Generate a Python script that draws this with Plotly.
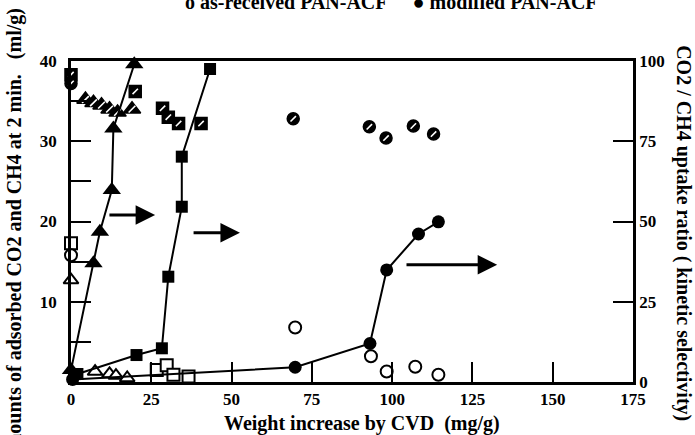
import plotly.graph_objects as go

# ---------------- data ----------------
# hatched symbols (left axis, ml/g)
hat_tri_x = [4.5, 7.0, 9.5, 12.0, 14.5, 19.0]
hat_tri_y = [35.2, 34.8, 34.5, 34.0, 33.6, 34.0]
hat_sq_x = [0, 20.0, 28.5, 30.3, 33.5, 40.5]
hat_sq_y = [38.3, 36.2, 34.1, 33.0, 32.2, 32.2]
hat_ci_x = [0, 69.2, 92.9, 98.1, 106.6, 112.9]
hat_ci_y = [37.2, 32.8, 31.8, 30.4, 31.9, 30.9]

# open symbols (left axis, ml/g)
open_tri_x = [0, 7.5, 12.0, 14.0, 17.5]
open_tri_y = [12.7, 1.3, 1.0, 0.8, 0.5]
open_sq_x = [0, 26.7, 29.8, 31.9, 36.6]
open_sq_y = [17.3, 1.5, 2.1, 0.9, 0.7]
open_ci_x = [0, 69.8, 93.4, 98.3, 107.2, 114.4]
open_ci_y = [15.8, 6.8, 3.2, 1.3, 1.9, 0.9]

# filled symbols with lines (right axis, CO2/CH4 ratio)
fill_tri_x = [0, 7.0, 9.0, 12.7, 13.2, 19.7]
fill_tri_r = [3.7, 37.0, 46.8, 59.8, 79.0, 99.0]
fill_sq_x = [2.0, 20.4, 28.3, 30.3, 34.5, 34.5, 43.3]
fill_sq_r = [2.5, 8.4, 10.5, 32.8, 54.6, 70.2, 97.5]
fill_ci_x = [0.5, 69.8, 93.1, 98.3, 108.2, 114.4]
fill_ci_r = [0.8, 4.6, 12.0, 34.9, 46.1, 49.9]

x_ticks = [0, 25, 50, 75, 100, 125, 150, 175]
yl_ticks = [0, 5, 10, 15, 20, 25, 30, 35, 40]
yl_text = ["", "", "10", "", "20", "", "30", "", "40"]
yr_ticks = [0, 25, 50, 75, 100]

# arrows (tail x, head x, y on left axis)
arrows = [(11.5, 26.2, 20.8), (37.7, 52.6, 18.6), (104.0, 132.7, 14.6)]

FONT = "Liberation Serif"
BLACK = "black"

fig = go.Figure()

def hatched(x, y, sym, size):
    fig.add_trace(go.Scatter(x=x, y=y, mode="markers", cliponaxis=False,
                             marker=dict(symbol=sym, size=size, color=BLACK,
                                         line=dict(color=BLACK, width=1.5)),
                             showlegend=False, hoverinfo="skip"))
    fig.add_trace(go.Scatter(x=x, y=y, mode="markers", cliponaxis=False,
                             marker=dict(symbol="line-ne", size=size * 0.45,
                                         line=dict(color="white", width=1.6)),
                             showlegend=False, hoverinfo="skip"))

def opened(x, y, sym, size):
    fig.add_trace(go.Scatter(x=x, y=y, mode="markers", cliponaxis=False,
                             marker=dict(symbol=sym, size=size, color="white",
                                         line=dict(color=BLACK, width=2)),
                             showlegend=False))

def filled(x, r, sym, size):
    fig.add_trace(go.Scatter(x=x, y=r, yaxis="y2", mode="lines+markers",
                             cliponaxis=False,
                             line=dict(color=BLACK, width=2),
                             marker=dict(symbol=sym, size=size, color=BLACK),
                             showlegend=False))

opened(open_tri_x, open_tri_y, "triangle-up", 13)
opened(open_sq_x, open_sq_y, "square", 12)
opened(open_ci_x, open_ci_y, "circle", 12)
filled(fill_tri_x, fill_tri_r, "triangle-up", 16)
filled(fill_sq_x, fill_sq_r, "square", 12)
filled(fill_ci_x, fill_ci_r, "circle", 13)
hatched(hat_tri_x, hat_tri_y, "triangle-up", 15)
hatched(hat_sq_x, hat_sq_y, "square", 12)
hatched(hat_ci_x, hat_ci_y, "circle", 12)

for (tx, hx, yy) in arrows:
    fig.add_annotation(x=hx, y=yy, ax=tx, ay=yy, xref="x", yref="y",
                       axref="x", ayref="y", text="", showarrow=True,
                       arrowhead=2, arrowsize=1.3, arrowwidth=3,
                       arrowcolor=BLACK)

tickfont = dict(family=FONT, size=17, color=BLACK, weight="bold")
titlefont = dict(family=FONT, size=20, color=BLACK, weight="bold")

fig.update_layout(
    width=695, height=435,
    margin=dict(l=71, r=62, t=61, b=53),
    paper_bgcolor="white", plot_bgcolor="white",
    showlegend=False,
    xaxis=dict(range=[0, 175], tickvals=x_ticks, ticks="inside", ticklen=20,
               tickwidth=2, tickcolor=BLACK, showline=True, linewidth=2.5,
               linecolor=BLACK, mirror=True, showgrid=False, zeroline=False,
               tickfont=tickfont),
    yaxis=dict(range=[0, 40], tickvals=yl_ticks, ticktext=yl_text,
               ticks="inside", ticklen=20, tickwidth=2, tickcolor=BLACK,
               showline=True, linewidth=2.5, linecolor=BLACK,
               showgrid=False, zeroline=False, tickfont=tickfont,
               ticklabelstandoff=8),
    yaxis2=dict(range=[0, 100], tickvals=yr_ticks, overlaying="y",
                side="right", ticks="inside", ticklen=20, tickwidth=2,
                tickcolor=BLACK, showline=True, linewidth=2.5,
                linecolor=BLACK, showgrid=False, zeroline=False,
                tickfont=tickfont),
)

fig.add_annotation(text="Weight increase by CVD\u00a0\u00a0(mg/g)", xref="paper",
                   yref="paper", x=0.518, y=-0.128, yanchor="middle",
                   showarrow=False, font=titlefont)
fig.add_annotation(text="Amounts of adsorbed CO2 and CH4 at 2 min.\u00a0\u00a0\u00a0(ml/g)",
                   xref="paper", yref="paper", x=-0.10, y=0.455, textangle=-90,
                   xanchor="center", yanchor="middle", showarrow=False,
                   font=titlefont)
fig.add_annotation(text="CO2 / CH4 uptake ratio ( kinetic selectivity)",
                   xref="paper", yref="paper", x=1.09, y=0.465, textangle=90,
                   xanchor="center", yanchor="middle", showarrow=False,
                   font=titlefont)
fig.add_annotation(text="o as-received PAN-ACF\u00a0\u00a0\u00a0\u00a0\u00a0● modified PAN-ACF",
                   xref="paper", yref="paper", x=0.57, y=1.183,
                   xanchor="center", yanchor="middle", showarrow=False,
                   font=titlefont)

fig.write_html("out.html")
